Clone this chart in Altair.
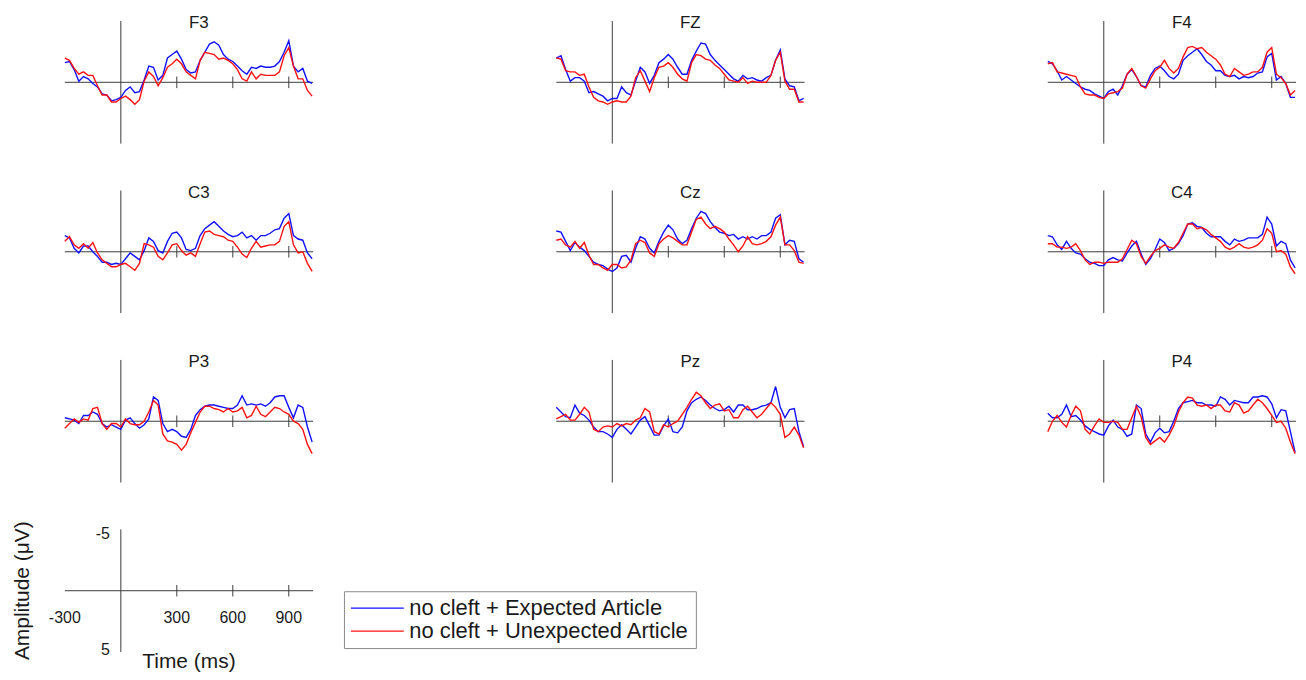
import altair as alt
import pandas as pd

# ---------------- data (amplitude in microvolts, negative plotted upward) ----------------
TIME_MS = list(range(-300, 1026, 25))
CONDITIONS = ["no cleft + Expected Article", "no cleft + Unexpected Article"]
COLORS = ["#1010ff", "#ff1010"]
CHANNELS = ["F3", "FZ", "F4", "C3", "Cz", "C4", "P3", "Pz", "P4"]
TICKS_MS = [300, 600, 900]
X_LABELS = [-300, 300, 600, 900]
Y_LABELS = [-5, 5]

F3_EXPECTED = [-1.7, -1.8, -1.1, -0.1, -0.5, -0.3, 0.1, 0.4, 1.0, 1.1, 1.6, 1.5, 1.3, 0.7, 0.4, 0.9, 0.8, -0.2, -1.4, -1.3,
               -0.2, -0.6, -2.1, -2.4, -2.7, -2.0, -1.1, -0.8, -0.9, -1.9, -2.6, -3.3, -3.5, -3.2, -2.4, -2.0, -1.8, -1.4, -1.0, -0.7,
               -1.3, -1.2, -1.4, -1.3, -1.3, -1.4, -1.8, -2.6, -3.6, -1.4, -0.9, -1.2, -0.1, 0.1]
F3_UNEXPECTED = [-2.1, -1.9, -1.2, -0.7, -0.9, -0.6, -0.6, 0.3, 1.1, 1.1, 1.7, 1.7, 1.4, 1.2, 1.5, 1.9, 1.5, -0.1, -0.9, -0.5,
                 0.3, -0.4, -1.3, -1.6, -2.0, -1.6, -0.9, -0.6, -0.3, -1.9, -2.6, -2.5, -2.4, -2.0, -2.1, -1.9, -1.6, -1.1, -0.3, -0.1,
                 -0.9, -0.3, -0.7, -0.6, -0.6, -0.6, -0.9, -2.3, -3.0, -1.4, -0.3, -0.3, 0.7, 1.2]
FZ_EXPECTED = [-2.1, -2.3, -1.1, -0.1, -0.4, -0.4, -0.1, 0.9, 0.8, 1.0, 1.2, 1.6, 1.4, 1.4, 0.4, 0.9, 1.1, -0.1, -1.3, -0.9,
               0.1, -0.6, -1.7, -2.0, -2.4, -2.0, -1.3, -0.7, -0.7, -1.9, -2.7, -3.4, -3.3, -2.4, -1.9, -1.5, -1.1, -0.7, -0.3, -0.1,
               -0.6, -0.3, -0.4, -0.2, -0.1, -0.4, -0.6, -1.9, -2.8, -0.3, 0.3, 0.4, 1.6, 1.4]
FZ_UNEXPECTED = [-2.1, -2.0, -1.0, -0.9, -0.9, -0.6, -0.7, 0.4, 1.3, 1.6, 1.7, 1.9, 1.7, 1.6, 1.7, 1.7, 1.2, -0.4, -1.0, -0.1,
                 0.8, -0.4, -1.3, -1.4, -1.7, -1.3, -0.7, -0.3, -0.1, -1.7, -2.4, -2.3, -2.0, -1.9, -1.5, -1.2, -0.7, -0.2, -0.1, 0.0,
                 -0.4, 0.1, -0.1, 0.0, 0.0, 0.0, -0.6, -1.9, -2.6, -0.1, 0.6, 0.6, 1.7, 1.7]
F4_EXPECTED = [-1.8, -1.6, -1.0, -0.2, -0.5, -0.2, 0.1, 0.4, 0.6, 0.7, 1.0, 1.2, 1.4, 0.8, 0.6, 1.1, 0.3, -0.7, -1.1, -0.5,
               0.3, 0.4, -0.6, -1.2, -1.4, -1.0, -0.5, -0.3, -0.7, -1.9, -2.3, -2.6, -2.9, -2.4, -1.8, -1.5, -1.0, -1.0, -0.6, -0.5,
               -0.6, -0.3, -0.5, -0.4, -0.5, -0.8, -0.9, -2.2, -2.5, -0.2, -0.5, 0.1, 1.3, 1.3]
F4_UNEXPECTED = [-1.6, -1.7, -0.9, -0.8, -0.7, -0.6, -0.5, 0.4, 1.0, 1.1, 1.1, 1.3, 1.4, 1.0, 0.9, 0.8, 0.5, -0.7, -1.2, -0.5,
                 0.3, 0.5, -0.3, -1.0, -1.3, -1.9, -1.2, -0.8, -1.2, -2.2, -3.0, -3.1, -2.9, -3.0, -2.6, -2.3, -2.0, -1.5, -0.7, -0.5,
                 -1.2, -0.9, -0.6, -0.7, -0.9, -0.9, -1.3, -2.6, -3.0, -0.7, -0.4, 0.1, 1.1, 0.7]
C3_EXPECTED = [-1.4, -1.2, -0.3, 0.1, -0.5, -0.5, 0.0, 0.4, 0.9, 0.9, 1.1, 1.0, 1.1, 0.6, 0.1, 0.4, 0.7, -0.1, -1.2, -0.9,
               -0.1, 0.1, -0.9, -1.6, -1.7, -1.2, -0.2, -0.1, -0.3, -1.4, -2.0, -2.3, -2.6, -2.2, -1.8, -1.5, -1.3, -1.4, -1.7, -1.2,
               -1.4, -1.0, -1.4, -1.4, -1.6, -1.9, -2.0, -2.9, -3.3, -1.4, -1.1, -1.0, 0.1, 0.6]
C3_UNEXPECTED = [-0.9, -1.3, -0.6, -0.3, -0.7, -0.3, -0.8, 0.1, 0.7, 1.0, 1.3, 1.3, 1.1, 1.0, 1.3, 1.6, 1.0, -0.7, -0.6, -0.4,
                 0.4, 0.7, 0.1, -0.6, -0.7, -0.1, 0.3, 0.1, 0.4, -0.7, -1.7, -1.8, -1.5, -1.4, -1.3, -1.0, -0.9, -0.4, 0.2, 0.5,
                 -0.3, -0.9, -0.4, -0.5, -0.6, -0.6, -0.9, -2.2, -2.6, -0.6, 0.1, 0.0, 1.0, 1.7]
CZ_EXPECTED = [-1.8, -1.7, -0.9, -0.1, -0.8, -0.4, -0.1, 0.4, 0.9, 1.1, 1.2, 1.5, 1.7, 1.4, 0.4, 0.3, 0.9, -0.3, -1.3, -1.1,
               -0.3, 0.1, -0.9, -1.7, -2.3, -1.9, -1.1, -0.7, -1.0, -2.0, -2.9, -3.5, -3.3, -2.6, -2.1, -1.7, -1.6, -1.4, -1.5, -1.1,
               -1.3, -1.1, -1.3, -1.1, -1.4, -1.4, -1.7, -2.9, -3.2, -0.6, -1.0, -0.9, 0.6, 0.9]
CZ_UNEXPECTED = [-1.0, -1.1, -0.6, -0.4, -0.9, -0.3, -0.8, 0.3, 1.1, 1.1, 1.4, 1.6, 1.1, 1.1, 1.4, 1.3, 0.7, -0.7, -1.0, -0.8,
                 0.1, 0.4, -0.7, -1.1, -1.4, -1.2, -0.9, -0.6, -0.6, -1.7, -2.8, -3.0, -2.4, -2.0, -2.2, -2.0, -1.7, -1.1, -0.6, 0.0,
                 -0.5, -1.3, -0.7, -0.6, -0.7, -0.9, -1.3, -2.3, -3.0, -0.6, -0.6, -0.1, 0.9, 1.0]
C4_EXPECTED = [-1.4, -1.3, -0.6, -0.2, -0.9, -0.3, 0.1, 0.2, 0.6, 0.9, 1.0, 1.2, 1.2, 0.7, 0.5, 0.7, 0.8, 0.1, -0.5, -0.9,
               0.2, 1.1, 0.6, -0.2, -1.1, -0.8, -0.1, -0.3, -0.7, -1.4, -2.4, -2.5, -2.2, -2.1, -1.6, -1.3, -1.3, -1.3, -0.9, -0.6,
               -1.1, -0.9, -1.0, -1.2, -1.2, -1.2, -1.5, -3.0, -2.4, -0.5, -0.9, -0.7, 0.7, 1.4]
C4_UNEXPECTED = [-0.7, -0.7, -0.4, -0.4, -0.3, -0.4, -0.7, -0.1, 0.7, 1.1, 0.9, 0.9, 1.0, 0.9, 0.9, 0.9, 0.6, -0.2, -1.0, -0.7,
                 0.4, 1.0, 0.4, -0.1, -0.3, -0.6, -0.4, -0.3, -0.8, -1.6, -2.4, -2.4, -2.0, -2.1, -1.9, -1.5, -1.2, -0.9, -0.4, -0.2,
                 -0.4, -0.7, -0.4, -0.3, -0.4, -0.6, -1.0, -2.0, -1.6, 0.0, -0.1, 0.2, 1.3, 1.9]
P3_EXPECTED = [-0.3, -0.2, -0.1, 0.2, -0.5, -0.5, -0.8, -0.6, 0.2, 0.5, 0.3, 0.5, 0.7, -0.1, -0.3, 0.2, 0.6, 0.3, -0.2, -2.1,
               -1.8, 0.2, 0.9, 0.7, 0.9, 1.3, 1.4, 0.7, -0.5, -1.0, -1.3, -1.4, -1.4, -1.3, -1.2, -1.1, -1.1, -1.4, -2.2, -1.4,
               -1.5, -1.4, -1.5, -1.3, -1.6, -2.1, -2.2, -2.2, -1.2, -0.3, -1.4, -1.2, 0.5, 1.8]
P3_UNEXPECTED = [0.6, 0.2, -0.2, 0.1, -0.2, -0.1, -1.1, -1.2, 0.2, 0.7, 0.2, 0.2, 0.5, -0.2, 0.2, 0.3, 0.3, 0.0, -0.8, -1.8,
                 -1.4, 1.1, 1.7, 1.8, 2.0, 2.5, 2.0, 1.0, 0.1, -0.8, -1.3, -1.3, -1.1, -1.0, -0.8, -1.1, -0.8, -0.9, -1.2, -0.3,
                 -0.5, -1.3, -0.6, -0.4, -0.8, -1.2, -1.1, -0.8, -0.6, 0.0, 0.2, 0.7, 2.0, 2.8]
PZ_EXPECTED = [-1.2, -0.8, -0.4, -0.3, -1.4, -0.7, -0.5, -0.1, 0.5, 0.9, 0.9, 1.1, 1.4, 0.7, 0.3, 0.7, 1.1, 0.5, -0.1, -0.4,
               0.4, 1.2, 1.2, 0.4, -0.2, 0.9, 1.0, 0.5, -0.9, -1.6, -1.9, -2.1, -1.8, -1.4, -1.1, -0.9, -1.0, -1.3, -0.8, -1.4,
               -1.4, -1.0, -1.0, -1.1, -1.3, -1.4, -1.6, -3.0, -1.2, -0.3, -1.0, -1.1, 0.9, 2.2]
PZ_UNEXPECTED = [-0.2, -0.4, -0.6, -0.1, -0.1, -0.6, -1.2, -0.8, 0.7, 0.9, 0.5, 0.4, 0.5, 0.2, 0.4, 0.2, 0.3, -0.1, -0.3, -1.1,
                 -0.8, 0.9, 1.1, 0.3, 0.5, 0.2, 0.0, -0.6, -1.2, -1.9, -2.5, -2.2, -1.6, -1.1, -1.4, -1.5, -0.9, -1.0, -0.3, -0.3,
                 -1.0, -1.3, -0.8, -0.3, -0.6, -1.1, -1.6, -1.2, -0.6, 1.4, 1.1, 0.5, 1.2, 2.3]
P4_EXPECTED = [-0.7, -0.3, -0.3, -0.6, -1.4, -0.4, -0.5, -0.1, 0.4, 0.7, 0.9, 1.1, 1.2, 0.4, -0.1, 0.5, 0.7, 1.3, 1.1, -1.4,
               -1.1, 1.1, 1.8, 1.0, 0.6, 1.0, 0.9, 0.0, -1.1, -1.6, -1.7, -1.8, -1.6, -1.6, -1.4, -1.4, -1.3, -2.1, -1.9, -1.4,
               -1.8, -1.7, -1.6, -1.6, -2.1, -2.1, -2.2, -2.1, -1.5, -0.3, -1.0, -0.9, 0.9, 2.7]
P4_UNEXPECTED = [0.9, 0.0, -0.5, 0.1, 0.5, -0.5, -1.3, -0.9, 0.7, 1.1, 0.4, -0.2, 0.1, 0.1, 0.0, 0.1, 0.7, 0.7, -0.3, -1.3,
                 -0.4, 1.4, 2.0, 1.7, 1.4, 1.8, 1.2, 0.4, -0.8, -1.6, -2.1, -2.0, -1.4, -1.3, -1.4, -1.1, -1.4, -1.4, -0.9, -0.8,
                 -1.6, -1.4, -0.7, -0.9, -1.4, -1.9, -1.6, -1.1, -0.5, 0.1, 0.0, 0.6, 1.8, 2.8]

CHANNEL_DATA = {
    "F3": (F3_EXPECTED, F3_UNEXPECTED), "FZ": (FZ_EXPECTED, FZ_UNEXPECTED), "F4": (F4_EXPECTED, F4_UNEXPECTED),
    "C3": (C3_EXPECTED, C3_UNEXPECTED), "Cz": (CZ_EXPECTED, CZ_UNEXPECTED), "C4": (C4_EXPECTED, C4_UNEXPECTED),
    "P3": (P3_EXPECTED, P3_UNEXPECTED), "Pz": (PZ_EXPECTED, PZ_UNEXPECTED), "P4": (P4_EXPECTED, P4_UNEXPECTED),
}

# ---------------- styling ----------------
FONT = "Liberation Sans"
TEXT_COLOR = "#1a1a1a"
AXIS_COLOR = "#3c3c3c"
W, H = 249, 123
X_DOMAIN = [-300, 1030]
Y_DOMAIN = [-5.3, 5.3]
TITLE_TIME, TITLE_AMP = 418, -5.1
TICK_HALF = 0.5


def xenc(field="time"):
    return alt.X(f"{field}:Q", scale=alt.Scale(domain=X_DOMAIN, nice=False, zero=False), axis=None)


def yenc(field="amp"):
    return alt.Y(f"{field}:Q", scale=alt.Scale(domain=Y_DOMAIN, reverse=True, nice=False, zero=False), axis=None)


# a long horizontal stroke symbol (unit path scaled by sqrt(symbolSize)/2)
LEGEND = alt.Legend(
    title=None, orient="none", legendX=280, legendY=572, direction="vertical",
    symbolType="M-2.65,0H2.65", symbolSize=400, symbolStrokeWidth=1.3, symbolOffset=16.5,
    symbolFillColor="transparent",
    labelFont=FONT, labelFontSize=22, labelColor=TEXT_COLOR, labelOffset=21, labelLimit=500,
    rowPadding=1, padding=6, strokeColor="#8c8c8c", fillColor="white",
)


def axes_layers():
    hline = alt.Chart(pd.DataFrame({"amp": [0.0]})).mark_rule(color=AXIS_COLOR, strokeWidth=1).encode(y=yenc())
    vline = alt.Chart(pd.DataFrame({"time": [0]})).mark_rule(color=AXIS_COLOR, strokeWidth=1).encode(x=xenc())
    ticks = alt.Chart(pd.DataFrame({"time": TICKS_MS,
                                    "lo": [-TICK_HALF] * len(TICKS_MS),
                                    "hi": [TICK_HALF] * len(TICKS_MS)})).mark_rule(
        color=AXIS_COLOR, strokeWidth=1).encode(x=xenc(), y=yenc("lo"), y2="hi:Q")
    return [hline, vline, ticks]


def panel(ch):
    exp, unexp = CHANNEL_DATA[ch]
    n = len(TIME_MS)
    frame = pd.DataFrame({
        "time": TIME_MS + TIME_MS,
        "amp": list(exp) + list(unexp),
        "condition": [CONDITIONS[0]] * n + [CONDITIONS[1]] * n,
    })
    lines = alt.Chart(frame).mark_line(strokeWidth=1.4).encode(
        x=xenc(), y=yenc(),
        color=alt.Color("condition:N", scale=alt.Scale(domain=CONDITIONS, range=COLORS), legend=LEGEND),
    )
    title = alt.Chart(pd.DataFrame({"time": [TITLE_TIME], "amp": [TITLE_AMP], "label": [ch]})).mark_text(
        font=FONT, fontSize=17, color=TEXT_COLOR, align="center", baseline="middle").encode(
        x=xenc(), y=yenc(), text="label:N")
    return alt.layer(*axes_layers(), lines, title).properties(width=W, height=H)


def scale_panel():
    xl = alt.Chart(pd.DataFrame({"time": X_LABELS, "amp": [0.0] * len(X_LABELS),
                                 "label": [str(v) for v in X_LABELS]})).mark_text(
        font=FONT, fontSize=16, color=TEXT_COLOR, align="center", baseline="middle", dy=27).encode(
        x=xenc(), y=yenc(), text="label:N")
    yl = alt.Chart(pd.DataFrame({"time": [0] * len(Y_LABELS), "amp": Y_LABELS,
                                 "label": [str(v) for v in Y_LABELS]})).mark_text(
        font=FONT, fontSize=16, color=TEXT_COLOR, align="right", baseline="middle", dx=-11, dy=1).encode(
        x=xenc(), y=yenc(), text="label:N")
    xt = alt.Chart(pd.DataFrame({"time": [sum(X_DOMAIN) / 2], "amp": [Y_DOMAIN[1]],
                                 "label": ["Time (ms)"]})).mark_text(
        font=FONT, fontSize=21, color=TEXT_COLOR, align="center", baseline="alphabetic", dy=16).encode(
        x=xenc(), y=yenc(), text="label:N")
    yt = alt.Chart(pd.DataFrame({"time": [X_DOMAIN[0]], "amp": [0.0],
                                 "label": ["Amplitude (\u03bcV)"]})).mark_text(
        font=FONT, fontSize=21, color=TEXT_COLOR, align="center", baseline="middle", angle=270, dy=-42).encode(
        x=xenc(), y=yenc(), text="label:N")
    return alt.layer(*axes_layers(), xl, yl, xt, yt).properties(width=W, height=H)


cells = [panel(ch) for ch in CHANNELS] + [scale_panel()]

chart = alt.concat(*cells, columns=3, spacing={"row": 47, "column": 244}, bounds="flush").properties(
    padding={"left": 3, "top": 5, "right": 0, "bottom": 0},
    background="white",
).configure_view(stroke=None)

chart.save("out.html", embed_options={"renderer": "svg", "actions": False})
